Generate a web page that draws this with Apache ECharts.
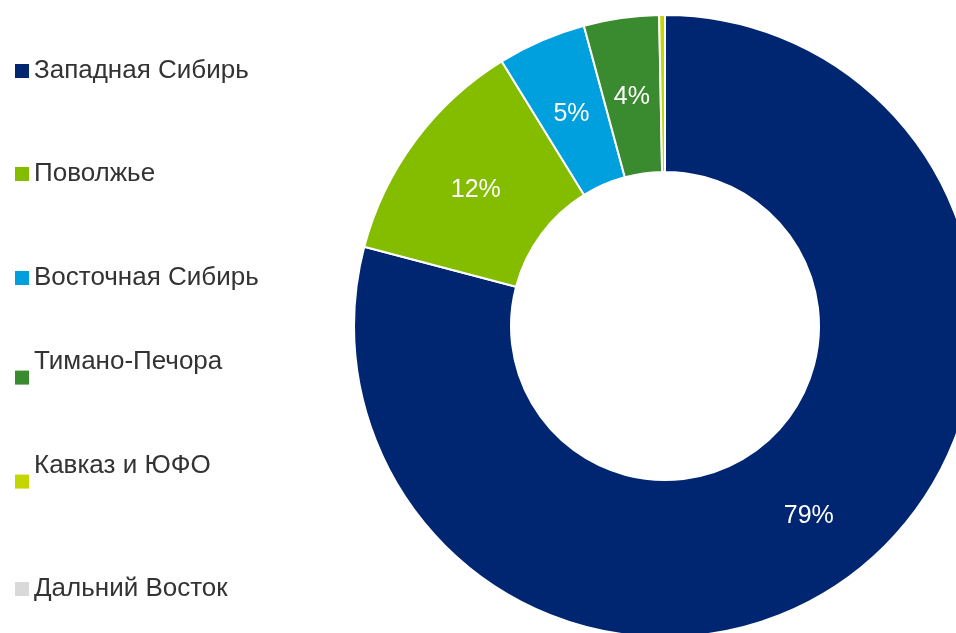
<!DOCTYPE html>
<html>
<head>
<meta charset="utf-8">
<script src="https://cdn.jsdelivr.net/npm/echarts@6/dist/echarts.min.js"></script>
<style>
	html, body { margin: 0; padding: 0; background: #fff; }
	#chart { width: 956px; height: 633px; }
</style>
</head>
<body>
<div id="chart"></div>
<script>
	// регионы и доли
	var regions = ['Западная Сибирь', 'Поволжье', 'Восточная Сибирь', 'Тимано-Печора', 'Кавказ и ЮФО', 'Дальний Восток'];
	var shares = [79.1, 12.1, 4.6, 3.9, 0.3, 0];
	var colors = ['#002672', '#84bd00', '#00a0df', '#3a8a2f', '#c4d600', '#d9d9d9'];
	// подписи легенды, у которых текст выше маркера
	var raisedLabels = ['Тимано-Печора', 'Кавказ и ЮФО'];

	var chart = echarts.init(document.getElementById('chart'));

	var pieData = regions.map(function (name, i) {
		return { name: name, value: shares[i] };
	});

	// по легенде на каждый пункт, чтобы держать шаг как в оригинале
	var markerY = [71, 174, 278, 378, 482, 589];
	var legends = regions.map(function (name, i) {
		var raised = raisedLabels.indexOf(name) >= 0;
		return {
			orient: 'vertical',
			left: 15,
			top: raised ? markerY[i] - 29.4 : markerY[i] - 13,
			padding: 0,
			itemWidth: 14,
			itemHeight: 14,
			icon: 'rect',
			selectedMode: false,
			itemStyle: { borderWidth: 0 },
			data: [name],
			textStyle: {
				color: '#333',
				fontFamily: 'Liberation Sans',
				fontSize: 26,
				rich: {
					s: { fontSize: 26, fontFamily: 'Liberation Sans', color: '#333', padding: [0, 0, 32, 0] }
				}
			},
			formatter: function (n) {
				return raised ? '{s|' + n + '}' : n;
			}
		};
	});

	chart.setOption({
		animation: false,
		color: colors,
		legend: legends,
		series: [{
			type: 'pie',
			center: [665, 326],
			radius: [154, 311],
			startAngle: 90,
			clockwise: true,
			avoidLabelOverlap: false,
			emphasis: { disabled: true },
			itemStyle: { borderColor: '#fff', borderWidth: 2 },
			label: {
				show: true,
				position: 'inside',
				color: '#fff',
				fontFamily: 'Liberation Sans',
				fontSize: 25,
				offset: [0, 4],
				formatter: function (p) {
					return p.value >= 1 ? Math.round(p.value) + '%' : '';
				}
			},
			labelLine: { show: false },
			data: pieData
		}]
	});
</script>
</body>
</html>
